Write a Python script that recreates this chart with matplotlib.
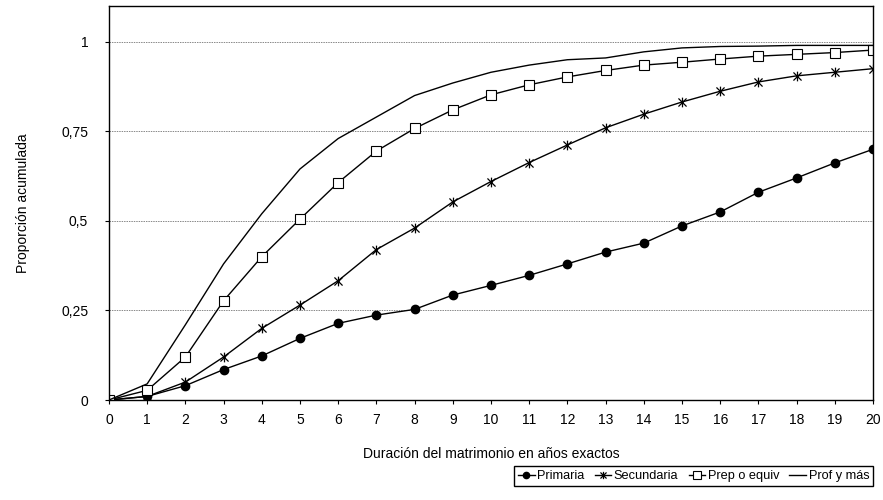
import matplotlib
matplotlib.use("Agg")
import matplotlib.pyplot as plt
from matplotlib.path import Path

plt.rcParams['font.family'] = ['Liberation Sans', 'DejaVu Sans']

# Duration in exact years
years = list(range(21))

# Cumulative proportions
primaria = [0, 0.01, 0.04, 0.085, 0.123, 0.172, 0.214, 0.237, 0.253, 0.293, 0.32,
            0.348, 0.38, 0.413, 0.438, 0.486, 0.525, 0.58, 0.62, 0.662, 0.70]
secundaria = [0, 0.01, 0.05, 0.12, 0.20, 0.265, 0.333, 0.42, 0.48, 0.553, 0.61,
              0.663, 0.712, 0.76, 0.798, 0.832, 0.862, 0.888, 0.905, 0.915, 0.925]
prep = [0, 0.027, 0.12, 0.277, 0.40, 0.505, 0.607, 0.695, 0.758, 0.81, 0.852,
        0.88, 0.902, 0.92, 0.935, 0.943, 0.952, 0.96, 0.965, 0.97, 0.977]
prof = [0, 0.045, 0.21, 0.38, 0.52, 0.645, 0.73, 0.79, 0.85, 0.885, 0.915,
        0.935, 0.95, 0.955, 0.972, 0.983, 0.987, 0.988, 0.99, 0.99, 0.99]

yticks = [0, 0.25, 0.5, 0.75, 1]
ytick_labels = ['0', '0,25', '0,5', '0,75', '1']

# Excel-like star marker: an X with a vertical bar
star = Path([(-1, -1), (1, 1), (-1, 1), (1, -1), (0, -1.2), (0, 1.2)],
            [Path.MOVETO, Path.LINETO, Path.MOVETO, Path.LINETO, Path.MOVETO, Path.LINETO])

fig = plt.figure(figsize=(8.83, 5.0), dpi=100)
ax = fig.add_axes([0.1234, 0.2, 0.8653, 0.788])

ax.plot(years, primaria, color='black', lw=1, marker='o', markersize=6,
        markerfacecolor='black', label='Primaria')
ax.plot(years, secundaria, color='black', lw=1, marker=star, markersize=7,
        markeredgewidth=0.9, label='Secundaria')
ax.plot(years, prep, color='black', lw=1, marker='s', markersize=7.5,
        markerfacecolor='white', markeredgewidth=0.8, label='Prep o equiv')
ax.plot(years, prof, color='black', lw=1, label='Prof y más')

ax.set_xlim(0, 20)
ax.set_ylim(0, 1.1)
ax.set_xticks(years)
ax.set_yticks(yticks)
ax.set_yticklabels(ytick_labels)
ax.tick_params(axis='both', labelsize=10, length=3, direction='out', width=0.8)
ax.tick_params(axis='y', pad=12)
ax.tick_params(axis='x', pad=6)
ax.grid(axis='y', color='#888888', linestyle=(0, (1.5, 1)), linewidth=0.7)
ax.set_axisbelow(True)
for s in ax.spines.values():
    s.set_linewidth(1)
    s.set_color('black')

ax.set_xlabel('Duración del matrimonio en años exactos', fontsize=10, labelpad=15)
ax.set_ylabel('Proporción acumulada', fontsize=10, labelpad=22)

fig.legend(loc='lower right', bbox_to_anchor=(0.996, 0.015), ncol=4, fontsize=9.2,
           frameon=True, fancybox=False, edgecolor='black', framealpha=1,
           handlelength=1.3, handletextpad=0.2, columnspacing=0.8, borderpad=0.3,
           markerscale=0.75)

plt.savefig('out.png', dpi=100)
